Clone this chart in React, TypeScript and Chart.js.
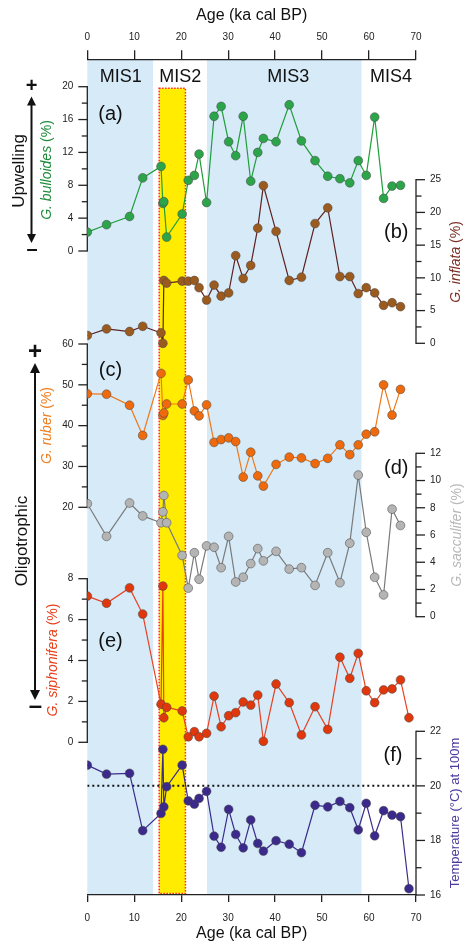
import React, { useEffect, useRef } from 'react';
import { Chart, registerables } from 'chart.js';

Chart.register(...registerables);

const FONT = "'Liberation Sans', Arial, Helvetica, sans-serif";

// Sample ages (ka cal BP)
const ages = [0, 4.1, 9.0, 11.8, 15.7, 16.1, 16.3, 16.9, 20.2, 21.5, 22.8, 23.8, 25.4, 27.0, 28.5, 30.1, 31.6, 33.2, 34.8, 36.3, 37.5, 40.2, 43.0, 45.6, 48.5, 51.2, 53.8, 55.9, 57.7, 59.4, 61.2, 63.1, 64.9, 66.7, 68.5];

// (a) G. bulloides (%)
const bulloides = [2.3, 3.2, 4.2, 8.9, 10.3, 5.8, 6.0, 1.7, 4.5, 8.6, 9.2, 11.8, 5.9, 16.4, 17.6, 13.3, 11.6, 16.4, 8.5, 12.0, 13.7, 13.3, 17.8, 13.4, 11.0, 9.1, 8.8, 8.3, 11.0, 9.2, 16.3, 6.4, 7.9, 8.0, null];
// (b) G. inflata (%)
const inflata = [1.2, 2.2, 1.8, 2.6, 1.6, 0.0, 9.6, 9.2, 9.5, 9.5, 9.6, 8.5, 6.6, 8.9, 7.2, 7.7, 13.4, 9.9, 11.9, 17.6, 24.1, 17.1, 9.6, 10.1, 18.3, 20.7, 10.2, 10.2, 7.6, 8.5, 7.7, 5.8, 6.2, 5.6, null];
// (c) G. ruber (%)
const ruber = [47.8, 47.7, 45.0, 37.6, 52.8, 42.5, 43.1, 45.3, 45.3, 51.2, 43.6, 42.4, 45.1, 35.9, 36.6, 37.0, 36.1, 27.4, 33.5, 27.7, 25.2, 30.5, 32.3, 32.1, 30.7, 32.0, 35.3, 32.9, 35.3, 37.9, 38.5, 50.0, 42.6, 48.9, null];
// (d) G. sacculifer (%)
const sacculifer = [8.3, 5.9, 8.35, 7.4, 6.9, 7.7, 8.9, 6.9, 4.5, 2.1, 4.7, 2.75, 5.2, 5.1, 3.6, 5.9, 2.55, 2.9, 3.9, 5.0, 4.1, 4.8, 3.5, 3.6, 2.3, 4.7, 2.5, 5.4, 10.4, 6.2, 2.9, 1.6, 7.9, 6.7, null];
// (e) G. siphonifera (%)
const siphonifera = [7.15, 6.8, 7.55, 6.27, 1.86, 7.64, 1.2, 1.71, 1.53, 0.27, 0.52, 0.27, 0.44, 2.26, 0.76, 1.3, 1.45, 1.97, 1.82, 2.31, 0.05, 2.85, 1.94, 0.36, 1.74, 0.63, 4.16, 3.13, 4.35, 2.52, 1.94, 2.56, 2.61, 3.05, 1.2];
// (f) Temperature (°C) at 100 m
const temperature = [20.76, 20.43, 20.46, 18.36, 18.99, 21.34, 19.23, 19.97, 20.76, 19.45, 19.33, 19.54, 19.8, 18.16, 17.75, 19.14, 18.22, 17.73, 18.75, 17.89, 17.61, 17.99, 17.86, 17.55, 19.29, 19.23, 19.43, 19.2, 18.39, 19.36, 18.17, 19.09, 18.93, 18.87, 16.23];
const tempReference = 20;

// Marine isotope stages
const misLabels = ['MIS1', 'MIS2', 'MIS3', 'MIS4'];
const misLabelAges = [7.1, 19.8, 42.8, 64.7];
const misBlueRanges = [[0, 14.0], [25.5, 58.4]];
const lgmRange = [15.3, 20.9];

// layout (pixels)
const W = 465;
const H = 943;
const TOP = 59.3;
const BOTTOM = 895;
const LEFT = 87.3;
const RIGHT = 416;

type AxisSpec = { id: string; side: 'left' | 'right'; lo: number; hi: number; loPx: number; hiPx: number; major: number; minor: number };
const axisSpecs: AxisSpec[] = [
  { id: 'yA', side: 'left', lo: 0, hi: 20, loPx: 251, hiPx: 86.7, major: 4, minor: 2 },
  { id: 'yB', side: 'right', lo: 0, hi: 25, loPx: 343.3, hiPx: 179.7, major: 5, minor: 2.5 },
  { id: 'yC', side: 'left', lo: 20, hi: 60, loPx: 507.3, hiPx: 344, major: 10, minor: 5 },
  { id: 'yD', side: 'right', lo: 0, hi: 12, loPx: 616.7, hiPx: 453.3, major: 2, minor: 1 },
  { id: 'yE', side: 'left', lo: 0, hi: 8, loPx: 742.3, hiPx: 578.7, major: 2, minor: 1 },
  { id: 'yF', side: 'right', lo: 16, hi: 22, loPx: 895, hiPx: 731.3, major: 2, minor: 1 },
];

function rangeFor(s: AxisSpec) {
  const k = (s.loPx - s.hiPx) / (s.hi - s.lo);
  return { min: s.lo - (BOTTOM - s.loPx) / k, max: s.hi + (s.hiPx - TOP) / k };
}

const pts = (vals: (number | null)[]) => ages.map((a, i) => ({ x: a, y: vals[i] }));

function series(label: string, vals: (number | null)[], axis: string, fill: string, line: string) {
  return {
    label,
    data: pts(vals),
    yAxisID: axis,
    xAxisID: 'x',
    borderColor: line,
    borderWidth: 1.2,
    backgroundColor: fill,
    pointBackgroundColor: fill,
    pointBorderColor: 'rgba(70,70,70,0.85)',
    pointBorderWidth: 0.6,
    pointRadius: 4.4,
    tension: 0,
    spanGaps: false,
  };
}

type Part = { t: string; it?: boolean };
function drawRich(ctx: CanvasRenderingContext2D, parts: Part[], x: number, y: number, rot: number, size: number, color: string) {
  ctx.save();
  ctx.translate(x, y);
  ctx.rotate(rot);
  ctx.fillStyle = color;
  ctx.textBaseline = 'middle';
  ctx.textAlign = 'left';
  const widths = parts.map((p) => {
    ctx.font = `${p.it ? 'italic ' : ''}${size}px ${FONT}`;
    return ctx.measureText(p.t).width;
  });
  const total = widths.reduce((a, b) => a + b, 0);
  let cx = -total / 2;
  parts.forEach((p, i) => {
    ctx.font = `${p.it ? 'italic ' : ''}${size}px ${FONT}`;
    ctx.fillText(p.t, cx, 0);
    cx += widths[i];
  });
  ctx.restore();
}

function arrowHead(ctx: CanvasRenderingContext2D, x: number, tipY: number, dir: number, w: number, h: number) {
  ctx.beginPath();
  ctx.moveTo(x, tipY);
  ctx.lineTo(x - w / 2, tipY - dir * h);
  ctx.lineTo(x + w / 2, tipY - dir * h);
  ctx.closePath();
  ctx.fill();
}

const decorPlugin = {
  id: 'decor',
  beforeDraw(chart: any) {
    const { ctx, chartArea } = chart;
    const xs = chart.scales.x;
    ctx.save();
    ctx.fillStyle = '#d6eaf8';
    misBlueRanges.forEach(([a, b]) => {
      const x0 = xs.getPixelForValue(a);
      const x1 = xs.getPixelForValue(b);
      ctx.fillRect(x0, chartArea.top, x1 - x0, chartArea.bottom - chartArea.top);
    });
    // LGM box
    const yA = chart.scales.yA;
    const bx0 = xs.getPixelForValue(lgmRange[0]);
    const bx1 = xs.getPixelForValue(lgmRange[1]);
    const by0 = yA.getPixelForValue(19.8);
    const by1 = chartArea.bottom - 1.5;
    ctx.fillStyle = '#ffec00';
    ctx.fillRect(bx0, by0, bx1 - bx0, by1 - by0);
    ctx.strokeStyle = '#ff2a1a';
    ctx.lineWidth = 1.5;
    ctx.setLineDash([1.5, 1.5]);
    ctx.strokeRect(bx0, by0, bx1 - bx0, by1 - by0);
    ctx.restore();
  },
  beforeDatasetsDraw(chart: any) {
    const { ctx, chartArea } = chart;
    ctx.save();
    ctx.strokeStyle = '#222';
    ctx.fillStyle = '#222';
    ctx.lineWidth = 1.3;
    ctx.font = `10px ${FONT}`;
    ctx.textBaseline = 'middle';
    axisSpecs.forEach((s) => {
      const sc = chart.scales[s.id];
      const x = s.side === 'left' ? chartArea.left : chartArea.right;
      const dir = s.side === 'left' ? -1 : 1;
      const yTop = sc.getPixelForValue(s.hi);
      const yBot = sc.getPixelForValue(s.lo);
      ctx.beginPath();
      ctx.moveTo(x, yTop - 0.6);
      ctx.lineTo(x, yBot + 0.6);
      ctx.stroke();
      ctx.textAlign = s.side === 'left' ? 'right' : 'left';
      const n = Math.round((s.hi - s.lo) / s.minor);
      for (let i = 0; i <= n; i++) {
        const v = s.lo + i * s.minor;
        const r = (v - s.lo) / s.major;
        const isMajor = Math.abs(r - Math.round(r)) < 1e-6;
        const len = isMajor ? 9 : 5.5;
        const y = sc.getPixelForValue(v);
        ctx.beginPath();
        ctx.moveTo(x, y);
        ctx.lineTo(x + dir * len, y);
        ctx.stroke();
        if (isMajor) ctx.fillText(String(v), x + dir * 14, y);
      }
    });
    ctx.restore();
  },
  afterDraw(chart: any) {
    const { ctx } = chart;
    const xs = chart.scales.x;
    ctx.save();
    ctx.fillStyle = '#111';
    ctx.textAlign = 'center';
    ctx.textBaseline = 'middle';
    ctx.font = `18px ${FONT}`;
    misLabels.forEach((m, i) => ctx.fillText(m, xs.getPixelForValue(misLabelAges[i]), 77));
    ctx.font = `20px ${FONT}`;
    ctx.fillText('(a)', 110.5, 114);
    ctx.fillText('(b)', 396.3, 232.5);
    ctx.fillText('(c)', 110.5, 370);
    ctx.fillText('(d)', 396.3, 468);
    ctx.fillText('(e)', 110.5, 641.7);
    ctx.fillText('(f)', 393, 755);
    ctx.restore();

    const R = -Math.PI / 2;
    drawRich(ctx, [{ t: 'Upwelling' }], 19, 171, R, 17, '#111');
    drawRich(ctx, [{ t: 'Oligotrophic' }], 22.5, 541, R, 17, '#111');
    drawRich(ctx, [{ t: 'G. bulloides', it: true }, { t: ' (%)' }], 47.5, 170, R, 14, '#1e8b3a');
    drawRich(ctx, [{ t: 'G. ruber', it: true }, { t: ' (%)' }], 47.5, 425.5, R, 14, '#f07d1e');
    drawRich(ctx, [{ t: 'G. siphonifera', it: true }, { t: ' (%)' }], 53, 660, R, 14, '#e8401c');
    drawRich(ctx, [{ t: 'G. inflata', it: true }, { t: ' (%)' }], 456.5, 262, R, 14, '#7b2f25');
    drawRich(ctx, [{ t: 'G. sacculifer', it: true }, { t: ' (%)' }], 457, 535, R, 14, '#b8b8b8');
    drawRich(ctx, [{ t: 'Temperature (°C) at 100m' }], 455, 813, R, 13, '#4a3a9e');

    // arrows
    ctx.save();
    ctx.strokeStyle = '#111';
    ctx.fillStyle = '#111';
    ctx.lineWidth = 2;
    ctx.beginPath();
    ctx.moveTo(31.5, 102);
    ctx.lineTo(31.5, 238);
    ctx.stroke();
    arrowHead(ctx, 31.5, 96.5, -1, 9, 9);
    arrowHead(ctx, 31.5, 243, 1, 9, 9);
    ctx.beginPath();
    ctx.moveTo(35, 370);
    ctx.lineTo(35, 694);
    ctx.stroke();
    arrowHead(ctx, 35, 363, -1, 10, 10);
    arrowHead(ctx, 35, 700, 1, 10, 10);
    ctx.textAlign = 'center';
    ctx.textBaseline = 'middle';
    ctx.font = `bold 20px ${FONT}`;
    ctx.fillText('+', 31.5, 86.5);
    ctx.fillText('–', 32, 249);
    ctx.font = `bold 24px ${FONT}`;
    ctx.fillText('+', 35, 352.5);
    ctx.fillText('–', 35.5, 706);
    ctx.restore();
  },
};

export default function App() {
  const ref = useRef<HTMLCanvasElement>(null);
  useEffect(() => {
    document.body.style.margin = '0';
    const yScales: any = {};
    axisSpecs.forEach((s) => {
      const r = rangeFor(s);
      yScales[s.id] = { type: 'linear', display: false, min: r.min, max: r.max };
    });
    const xTickFont = { family: FONT, size: 10 };
    const chart = new Chart(ref.current as HTMLCanvasElement, {
      type: 'line',
      data: {
        datasets: [
          series('G. bulloides', bulloides, 'yA', '#2ca44a', '#1f9e3a'),
          series('G. inflata', inflata, 'yB', '#9b5a1e', '#5e2222'),
          series('G. ruber', ruber, 'yC', '#ee6a0c', '#f07818'),
          series('G. sacculifer', sacculifer, 'yD', '#b4b4b4', '#7a7a7a'),
          series('G. siphonifera', siphonifera, 'yE', '#e0380c', '#e84020'),
          series('Temperature', temperature, 'yF', '#3b2a8c', '#3b2b8b'),
          {
            label: '20 °C',
            data: [{ x: 0, y: tempReference }, { x: 70, y: tempReference }],
            yAxisID: 'yF',
            xAxisID: 'x',
            borderColor: '#111',
            borderWidth: 2,
            borderDash: [2, 3],
            pointRadius: 0,
          } as any,
        ],
      },
      options: {
        animation: false,
        responsive: false,
        maintainAspectRatio: false,
        layout: { padding: { left: LEFT, right: W - RIGHT, top: 0, bottom: 0 } },
        plugins: { legend: { display: false }, tooltip: { enabled: false } },
        scales: {
          x: {
            type: 'linear',
            position: 'bottom',
            min: 0,
            max: 70,
            ticks: { stepSize: 10, font: xTickFont, color: '#222', padding: 10, maxRotation: 0, autoSkip: false },
            grid: { drawOnChartArea: false, tickLength: 7, color: '#222', lineWidth: 1.3 },
            border: { display: true, color: '#222', width: 1.3 },
            title: { display: true, text: 'Age (ka cal BP)', font: { family: FONT, size: 16 }, color: '#111', padding: { top: 0, bottom: 0 } },
            afterFit: (s: any) => { s.height = H - BOTTOM; },
          },
          x2: {
            type: 'linear',
            position: 'top',
            min: 0,
            max: 70,
            ticks: { stepSize: 10, font: xTickFont, color: '#222', padding: 7, maxRotation: 0, autoSkip: false },
            grid: { drawOnChartArea: false, tickLength: 9, color: '#222', lineWidth: 1.3 },
            border: { display: true, color: '#222', width: 1.3 },
            title: { display: true, text: 'Age (ka cal BP)', font: { family: FONT, size: 16 }, color: '#111', padding: { top: 6, bottom: 0 } },
            afterFit: (s: any) => { s.height = TOP; },
          },
          ...yScales,
        },
      } as any,
      plugins: [decorPlugin],
    });
    return () => chart.destroy();
  }, []);
  return <canvas ref={ref} width={W} height={H} style={{ display: 'block', width: W, height: H }} />;
}
